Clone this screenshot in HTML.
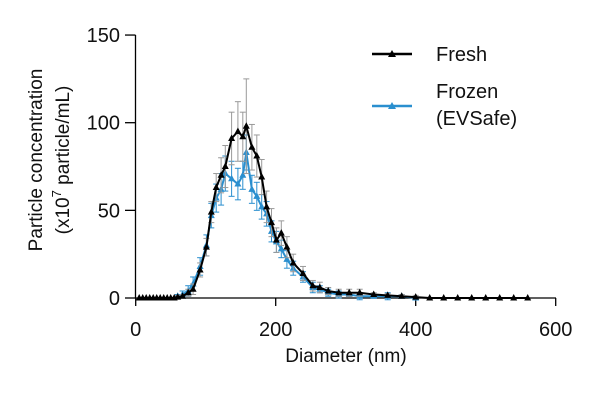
<!DOCTYPE html>
<html><head><meta charset="utf-8"><style>
body{margin:0;background:#fff;}
svg text{font-family:"Liberation Sans",Arial,sans-serif;fill:#111;}
</style></head><body>
<svg width="600" height="411" viewBox="0 0 600 411">
<g id="axes"></g><g id="series"></g>
<g>
 <line x1="372" y1="54" x2="412" y2="54" stroke="#000" stroke-width="2.5"/>
 <path d="M392 50 L396 57 L388 57 Z" fill="#000"/>
 <text x="436" y="61" font-size="20">Fresh</text>
 <line x1="372" y1="106" x2="412" y2="106" stroke="#2a8fcf" stroke-width="2.5"/>
 <path d="M392 102 L396 109 L388 109 Z" fill="#2a8fcf"/>
 <text x="436" y="98" font-size="20">Frozen</text>
 <text x="436" y="125" font-size="20">(EVSafe)</text>
</g>
<text x="346" y="362" font-size="19" text-anchor="middle">Diameter (nm)</text>
<g transform="translate(0,160) rotate(-90)">
 <text x="0" y="42" font-size="19" text-anchor="middle">Particle concentration</text>
 <text x="0" y="69" font-size="19" text-anchor="middle">(x10<tspan dy="-8" font-size="13">7</tspan><tspan dy="8"> particle/mL)</tspan></text>
</g>
</svg>
<script>
const xTicks=[0,200,400,600];
const yTicks=[0,50,100,150];
const freshD=[5,10,15,20,25,30,35,40,45,50,55,60,67,75,82,92,101,108,115,122,128,137,146,153,158,166,173,180,187,194,201,208,216,225,239,253,263,275,290,305,320,340,360,380,400,420,440,460,480,500,520,540,560];
const freshV=[0,0,0,0,0,0,0,0,0,0,0,0.5,1,3,5,16,29,49,63,70,75,91,95,92,98,86,81,69,52,43,33,37,29,20,14,7,6,4,3,3,3,2,1.5,1,0.5,0,0,0,0,0,0,0,0];
const freshE=[0,0,0,0,0,0,0,0,0,0,0,1,1,2,3,4,5,6,8,10,12,15,17,14,27,13,12,10,9,8,7,7,6,5,4,3,3,2,2,2,2,1,1,1,1,0,0,0,0,0,0,0,0];
const frozD=[60,67,75,82,92,101,108,115,122,128,137,146,153,158,166,173,180,187,194,201,208,216,225,239,253,263,275,290,305,320,340,360,380,400];
const frozV=[1,2,4,8,18,30,47,57,62,71,68,65,70,83,62,58,52,48,38,32,28,22,17,12,6,5,3,2,2,1,1,1,1,0];
const frozE=[1,2,3,4,5,6,7,8,9,10,10,9,8,10,8,8,7,7,6,6,5,5,4,3,3,2,2,2,1,2,1,2,1,0];
const NS='http://www.w3.org/2000/svg';
const X=d=>135.7+d*0.7, Y=v=>298-v*1.753;
function mk(t,a,p){const e=document.createElementNS(NS,t);for(const k in a)e.setAttribute(k,a[k]);p.appendChild(e);return e;}
const ax=document.getElementById('axes');
const xl=mk('line',{x1:135.5,y1:298,x2:556,y2:298,stroke:'#000','stroke-width':1.3},ax);


const yl=mk('line',{x1:135.5,y1:35,x2:135.5,y2:298,stroke:'#000','stroke-width':1.3},ax);


xTicks.forEach(t=>{mk('line',{x1:X(t),y1:298,x2:X(t),y2:306,stroke:'#000','stroke-width':1.3},ax);
 const tx=mk('text',{x:X(t),y:336,'font-size':20,'text-anchor':'middle'},ax);tx.textContent=t;
 
 });
yTicks.forEach(t=>{mk('line',{x1:125,y1:Y(t),x2:135.5,y2:Y(t),stroke:'#000','stroke-width':1.3},ax);
 const tx=mk('text',{x:120,y:Y(t)+7,'font-size':20,'text-anchor':'end'},ax);tx.textContent=t;
 
 });
const sg=document.getElementById('series');
function series(D,V,E,col,errCol,name){
 const g=mk('g',{},sg);
 
 
 D.forEach((d,i)=>{if(E[i]>0){const x=X(d);
  mk('line',{x1:x,y1:Y(V[i]-E[i]),x2:x,y2:Y(V[i]+E[i]),stroke:errCol,'stroke-width':1},g);
  mk('line',{x1:x-3,y1:Y(V[i]+E[i]),x2:x+3,y2:Y(V[i]+E[i]),stroke:errCol,'stroke-width':1},g);
  mk('line',{x1:x-3,y1:Y(V[i]-E[i]),x2:x+3,y2:Y(V[i]-E[i]),stroke:errCol,'stroke-width':1},g);}});
 mk('polyline',{points:D.map((d,i)=>X(d)+','+Y(V[i])).join(' '),fill:'none',stroke:col,'stroke-width':2},g);
 D.forEach((d,i)=>{const x=X(d),y=Y(V[i]);
  const p=mk('path',{d:`M${x} ${y-4}L${x+3.5} ${y+2.5}L${x-3.5} ${y+2.5}Z`,fill:col},g);
  
  });
}
series(frozD,frozV,frozE,'#2a8fcf','#2a8fcf','series-frozen');
series(freshD,freshV,freshE,'#000','#999','series-fresh');
</script>
</body></html>
